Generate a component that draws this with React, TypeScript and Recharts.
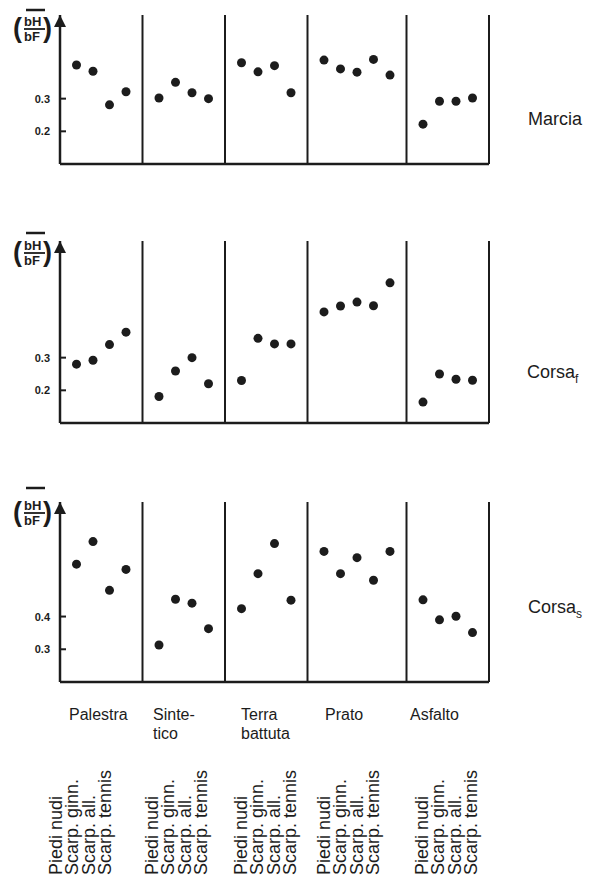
import React from 'react';
import {
  ScatterChart,
  Scatter,
  XAxis,
  YAxis,
  ReferenceLine,
  ReferenceDot,
} from 'recharts';

// surfaces (column groups) and the shoe conditions under each
const surfaces = ['Palestra', 'Sintetico', 'Terra battuta', 'Prato', 'Asfalto'];
const surfaceLabels = [['Palestra'], ['Sinte-', 'tico'], ['Terra', 'battuta'], ['Prato'], ['Asfalto']];
const shoes = ['Piedi nudi', 'Scarp. ginn.', 'Scarp. all.', 'Scarp. tennis'];

// mean bH/bF per surface (Prato has five points)
const marcia = [
  [0.403, 0.384, 0.281, 0.321],
  [0.302, 0.35, 0.318, 0.3],
  [0.41, 0.382, 0.401, 0.318],
  [0.418, 0.391, 0.381, 0.42, 0.372],
  [0.222, 0.292, 0.292, 0.302],
];
const corsaF = [
  [0.28, 0.292, 0.34, 0.378],
  [0.181, 0.259, 0.3, 0.22],
  [0.23, 0.359, 0.342, 0.342],
  [0.44, 0.458, 0.47, 0.459, 0.529],
  [0.164, 0.25, 0.234, 0.231],
];
const corsaS = [
  [0.56, 0.629, 0.48, 0.544],
  [0.313, 0.453, 0.441, 0.363],
  [0.424, 0.531, 0.623, 0.45],
  [0.599, 0.531, 0.58, 0.511, 0.599],
  [0.451, 0.39, 0.401, 0.351],
];

const marciaTicks = [0.2, 0.3];
const corsaFTicks = [0.2, 0.3];
const corsaSTicks = [0.3, 0.4];

const INK = '#1c1c1c';
const FONT = '"Liberation Sans", Arial, Helvetica, sans-serif';

// each surface takes one slot per point plus one slot for the divider
function toPoints(groups: number[][]) {
  const pts: { x: number; y: number }[] = [];
  let slot = 0;
  groups.forEach((g) => {
    g.forEach((v) => {
      slot += 1;
      pts.push({ x: slot, y: v });
    });
    slot += 1;
  });
  return pts;
}

function dividers(groups: number[][]) {
  const out: number[] = [];
  let slot = 0;
  groups.forEach((g) => {
    slot += g.length + 1;
    out.push(slot);
  });
  return out;
}

const YTick = ({ x, y, payload }: any) => (
  <g>
    <text
      x={x - 10}
      y={y}
      dy="0.36em"
      textAnchor="end"
      fontSize={11}
      fontWeight="bold"
      fontFamily={FONT}
      fill={INK}
    >
      {payload.value.toFixed(1)}
    </text>
    <line x1={x} x2={x + 6} y1={y} y2={y} stroke={INK} strokeWidth={2} />
  </g>
);

const Arrow = ({ cx, cy }: any) => (
  <polygon points={`${cx},${cy} ${cx - 6},${cy + 12} ${cx + 6},${cy + 12}`} fill={INK} />
);

const Dot = ({ cx, cy }: any) => <circle cx={cx} cy={cy} r={4.5} fill={INK} />;

interface PanelProps {
  groups: number[][];
  ticks: number[];
  domain: [number, number];
  top: number;
  height: number;
  plotTop: number;
  plotBottom: number;
}

function Panel({ groups, ticks, domain, top, height, plotTop, plotBottom }: PanelProps) {
  const data = toPoints(groups);
  const lines = dividers(groups);
  const xMax = lines[lines.length - 1];
  return (
    <div style={{ position: 'absolute', left: 0, top }}>
      <ScatterChart
        width={592}
        height={height}
        margin={{ top: plotTop - top, right: 103, bottom: 0, left: 0 }}
      >
        <XAxis
          type="number"
          dataKey="x"
          domain={[0, xMax]}
          allowDataOverflow
          tick={false}
          tickLine={false}
          height={top + height - plotBottom}
          axisLine={{ stroke: INK, strokeWidth: 2.5 }}
        />
        <YAxis
          type="number"
          dataKey="y"
          domain={domain}
          allowDataOverflow
          ticks={ticks}
          width={60}
          tickLine={false}
          tickSize={0}
          tickMargin={0}
          tick={<YTick />}
          axisLine={{ stroke: INK, strokeWidth: 2.5 }}
        />
        {lines.map((v) => (
          <ReferenceLine key={v} x={v} stroke={INK} strokeWidth={2} ifOverflow="visible" />
        ))}
        <ReferenceDot x={0} y={domain[1]} shape={<Arrow />} ifOverflow="visible" />
        <Scatter data={data} shape={<Dot />} isAnimationActive={false} />
      </ScatterChart>
    </div>
  );
}

function RatioLabel({ bar, over }: { bar: number; over: number }) {
  return (
    <g fill={INK} fontFamily={FONT}>
      <line x1={26} x2={45} y1={over} y2={over} stroke={INK} strokeWidth={2.5} />
      <text x={13} y={bar + 8} fontSize={27} fontWeight="bold">(</text>
      <text x={24} y={bar - 3} fontSize={13} fontWeight="bold">bH</text>
      <line x1={24} x2={45} y1={bar} y2={bar} stroke={INK} strokeWidth={1.8} />
      <text x={24} y={bar + 12} fontSize={13} fontWeight="bold">bF</text>
      <text x={43} y={bar + 8} fontSize={27} fontWeight="bold">)</text>
    </g>
  );
}

const groupX = [69, 153, 241, 325, 410];
const shoeX = [62, 158, 247, 330, 428];

export default function App() {
  return (
    <div
      style={{
        position: 'absolute',
        left: 0,
        top: 0,
        width: 592,
        height: 880,
        background: '#fff',
        overflow: 'hidden',
      }}
    >
      <Panel groups={marcia} ticks={marciaTicks} domain={[0.1, 0.556]} top={0} height={180} plotTop={15} plotBottom={164} />
      <Panel groups={corsaF} ticks={corsaFTicks} domain={[0.1, 0.657]} top={225} height={215} plotTop={241} plotBottom={423} />
      <Panel groups={corsaS} ticks={corsaSTicks} domain={[0.2, 0.75]} top={490} height={205} plotTop={502} plotBottom={682} />

      <svg
        width={592}
        height={880}
        style={{ position: 'absolute', left: 0, top: 0, pointerEvents: 'none' }}
      >
        <RatioLabel bar={29} over={10} />
        <RatioLabel bar={253} over={233} />
        <RatioLabel bar={513} over={488} />

        <g fontFamily={FONT} fontSize={18} fill={INK}>
          <text x={528} y={125}>Marcia</text>
          <text x={527} y={378}>
            Corsa<tspan fontSize={12} dy={5}>f</tspan>
          </text>
          <text x={528} y={613}>
            Corsa<tspan fontSize={12} dy={5}>s</tspan>
          </text>

          {surfaces.map((s, i) =>
            surfaceLabels[i].map((line, j) => (
              <text key={s + j} x={groupX[i]} y={720 + j * 18.5} fontSize={16}>
                {line}
              </text>
            ))
          )}

          {surfaces.map((s, i) =>
            shoes.map((shoe, j) => {
              const x = shoeX[i] + j * 16.3;
              return (
                <text key={s + shoe} transform={`translate(${x},875) rotate(-90)`}>
                  {shoe}
                </text>
              );
            })
          )}
        </g>
      </svg>
    </div>
  );
}
